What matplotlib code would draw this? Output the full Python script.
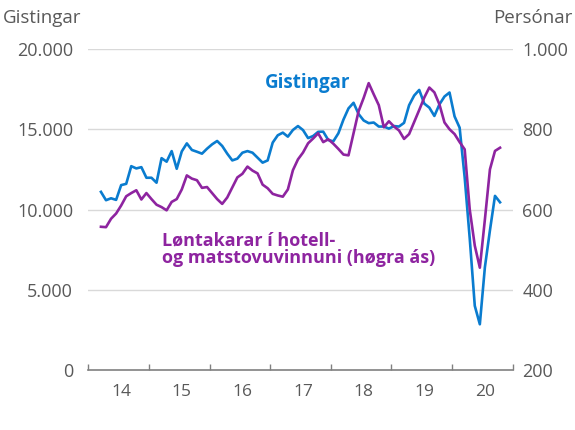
import numpy as np
import matplotlib
matplotlib.use("Agg")
import matplotlib.pyplot as plt
from matplotlib.ticker import FuncFormatter

plt.rcParams['font.family'] = ['Open Sans', 'DejaVu Sans']

# monthly series, March 2014 (month index 2) to October 2020 (index 81)
months = np.arange(2, 82)

gistingar = [11100, 10580, 10700, 10600, 11520, 11600, 12700, 12560, 12640, 11980,
             11980, 11670, 13200, 12980, 13640, 12540, 13620, 14120, 13710, 13600,
             13480, 13790, 14060, 14270, 13960, 13480, 13060, 13170, 13540, 13640,
             13540, 13230, 12920, 13060, 14170, 14625, 14790, 14540, 14956, 15200,
             14950, 14450, 14580, 14840, 14850, 14330, 14250, 14750, 15600, 16300,
             16650, 15950, 15550, 15380, 15420, 15170, 15170, 15040, 15200, 15170,
             15400, 16500, 17100, 17450, 16600, 16350, 15830, 16550, 17040, 17290,
             15800, 15100, 12000, 8200, 4000, 2850, 6400, 8700, 10850, 10450]

lontakarar = [557, 556, 577, 590, 610, 633, 641, 648, 625, 641,
              626, 612, 606, 598, 619, 626, 650, 685, 677, 673,
              654, 656, 641, 626, 614, 630, 655, 680, 689, 707,
              697, 690, 662, 653, 639, 635, 632, 650, 698, 725,
              742, 765, 777, 790, 768, 775, 764, 751, 737, 735,
              790, 845, 878, 915, 887, 860, 805, 820, 807, 797,
              776, 788, 818, 848, 879, 904, 892, 862, 817, 800,
              788, 768, 750, 600, 510, 455, 575, 700, 746, 754]

years = ['14', '15', '16', '17', '18', '19', '20']

blue = '#0A7CCF'
purple = '#8E24A0'
grey = '#595959'

fig = plt.figure(figsize=(5.75, 4.3), dpi=100)
ax = fig.add_axes([0.1536, 0.1395, 0.738, 0.7465])
ax2 = ax.twinx()

x = months + 0.5
ax.plot(x, gistingar, color=blue, lw=1.9, zorder=3)
ax2.plot(x, lontakarar, color=purple, lw=1.9, zorder=3)

ax.set_xlim(0, 84)
ax.set_ylim(0, 20000)
ax2.set_ylim(200, 1000)
ax.set_yticks(np.arange(0, 20001, 5000))
ax2.set_yticks(np.arange(200, 1001, 200))

fmt = FuncFormatter(lambda v, p: f'{int(v):,}'.replace(',', '.'))
ax.yaxis.set_major_formatter(fmt)
ax2.yaxis.set_major_formatter(fmt)

for v in [5000, 10000, 15000, 20000]:
    ax.axhline(v, color='#D9D9D9', lw=1.0, zorder=1)

ax.set_xticks(np.arange(0, 85, 12))
ax.set_xticklabels([])
ax.set_xticks(np.arange(6.5, 84, 12), minor=True)
ax.set_xticklabels(years, minor=True)
ax.tick_params(axis='x', which='major', direction='in', length=4, color='#808080', width=1)
ax.tick_params(axis='x', which='minor', length=0, pad=10, labelsize=12.5, labelcolor=grey)
ax.tick_params(axis='y', length=0, pad=11, labelsize=13, labelcolor=grey)
ax2.tick_params(axis='y', length=0, pad=7, labelsize=13, labelcolor=grey)

for a in (ax, ax2):
    for s in ['top', 'left', 'right', 'bottom']:
        a.spines[s].set_visible(False)
ax.spines['bottom'].set_visible(True)
ax.spines['bottom'].set_color('#808080')
ax.spines['bottom'].set_linewidth(1.2)

fig.text(0.005, 0.957, 'Gistingar', fontsize=13.5, color=grey, va='center', ha='left')
fig.text(0.995, 0.957, 'Persónar', fontsize=13.5, color=grey, va='center', ha='right')

fig.text(0.461, 0.807, 'Gistingar', fontsize=13.5, color=blue, fontweight='bold',
         ha='left', va='center')
fig.text(0.282, 0.42, 'Løntakarar í hotell-\nog matstovuvinnuni (høgra ás)', fontsize=13,
         color=purple, fontweight='bold', ha='left', va='center', linespacing=1.0)

fig.savefig('out.png', dpi=100)
